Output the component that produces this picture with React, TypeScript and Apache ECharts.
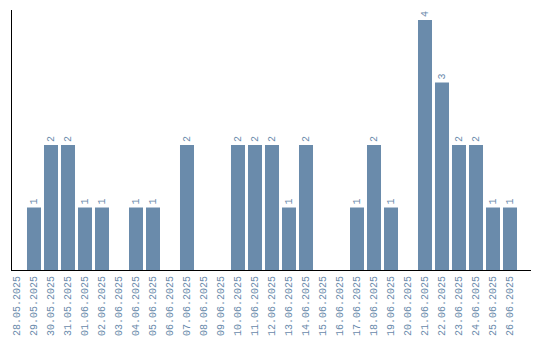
import React, { useEffect, useRef } from "react";
import * as echarts from "echarts";

const categories = [
  "28.05.2025", "29.05.2025", "30.05.2025", "31.05.2025", "01.06.2025",
  "02.06.2025", "03.06.2025", "04.06.2025", "05.06.2025", "06.06.2025",
  "07.06.2025", "08.06.2025", "09.06.2025", "10.06.2025", "11.06.2025",
  "12.06.2025", "13.06.2025", "14.06.2025", "15.06.2025", "16.06.2025",
  "17.06.2025", "18.06.2025", "19.06.2025", "20.06.2025", "21.06.2025",
  "22.06.2025", "23.06.2025", "24.06.2025", "25.06.2025", "26.06.2025",
];
const values = [
  0, 1, 2, 2, 1,
  1, 0, 1, 1, 0,
  2, 0, 0, 2, 2,
  2, 1, 2, 0, 0,
  1, 2, 1, 0, 4,
  3, 2, 2, 1, 1,
];

const BAR = "#6a8bab";
const TXT = "#6a8aab";
const FONT = "Liberation Mono";

export default function App() {
  const ref = useRef<HTMLDivElement>(null);
  useEffect(() => {
    if (!ref.current) return;
    const chart = echarts.init(ref.current, null, { renderer: "svg" });
    chart.setOption({
      animation: false,
      grid: { left: 8.5, right: 21.5, top: 20, bottom: 70, containLabel: false },
      xAxis: {
        type: "category",
        data: categories,
        axisLine: { show: false },
        axisTick: { show: false },
        axisLabel: {
          interval: 0,
          rotate: 90,
          margin: 6,
          color: TXT,
          fontFamily: FONT,
          fontSize: 10,
        },
      },
      yAxis: {
        type: "value",
        min: 0,
        max: 4,
        axisLine: { show: false },
        axisTick: { show: false },
        axisLabel: { show: false },
        splitLine: { show: false },
      },
      series: [
        {
          type: "bar",
          data: values.map((v) => (v === 0 ? null : v)),
          barCategoryGap: "17.6%",
          itemStyle: { color: BAR },
          label: {
            show: true,
            position: "top",
            rotate: 90,
            align: "left",
            verticalAlign: "middle",
            distance: 3,
            color: TXT,
            fontFamily: FONT,
            fontSize: 10,
          },
        },
      ],
      graphic: [
        {
          type: "line",
          shape: { x1: 11.5, y1: 10, x2: 11.5, y2: 270.5 },
          style: { stroke: "#000", lineWidth: 1 },
          silent: true,
        },
        {
          type: "line",
          shape: { x1: 11, y1: 270.5, x2: 531, y2: 270.5 },
          style: { stroke: "#000", lineWidth: 1 },
          silent: true,
        },
      ],
    });
    return () => chart.dispose();
  }, []);
  return <div ref={ref} style={{ width: 540, height: 340, position: "absolute", left: 0, top: 0 }} />;
}
